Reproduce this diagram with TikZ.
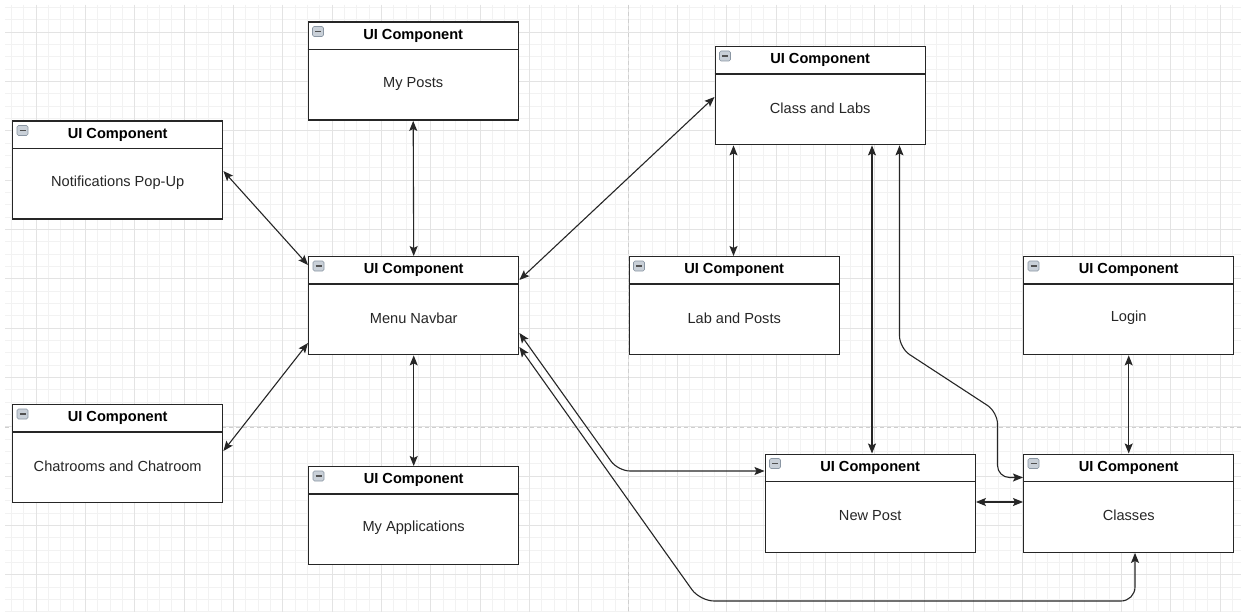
\documentclass[tikz,border=0pt]{standalone}
\usepackage{fontspec}
\setmainfont{Liberation Sans}
\usetikzlibrary{arrows.meta,calc}
\definecolor{gridminor}{HTML}{F2F2F2}
\definecolor{gridmajor}{HTML}{E3E3E3}
\definecolor{pageline}{HTML}{CFCFCF}
\definecolor{edge}{HTML}{262626}
\definecolor{iconfill}{HTML}{C9D0D8}
\definecolor{iconline}{HTML}{8A96A3}
\tikzset{
  uibox/.style={draw=edge, line width=1.4pt, fill=white, anchor=north west,
    minimum width=210pt, minimum height=98pt, inner sep=0pt},
  uititle/.style={font=\fontsize{14.6pt}{16pt}\selectfont\bfseries, text=black},
  uibody/.style={font=\fontsize{14.6pt}{16pt}\selectfont, text=black!85},
  conn/.style={draw=edge, line width=1.1pt, {Stealth[length=10pt,width=8pt,inset=2pt]}-{Stealth[length=10pt,width=8pt,inset=2pt]}},
  minusicon/.style={draw=iconline, fill=iconfill, rounded corners=1.5pt, line width=0.6pt},
}
% one UI component box: name, top-left x, top-left y, body text
% (y grows downwards, so positive offsets move down)
\newcommand{\uicomp}[4]{%
  \node[uibox] (#1) at (#2,#3) {};
  \draw[edge, line width=1.4pt] ($(#1.north west)+(0,28)$) -- ($(#1.north east)+(0,28)$);
  \node[uititle] (#1-title) at ($(#1.north)+(0,14)$) {UI Component};
  \node[uibody] (#1-body) at ($(#1.north)+(0,62)$) {#4};
  \draw[minusicon] ($(#1.north west)+(5,5)$) rectangle ($(#1.north west)+(16,15)$);
  \draw[edge!80, line width=1.2pt] ($(#1.north west)+(7.5,10)$) -- ($(#1.north west)+(13.5,10)$);
}
\begin{document}
\begin{tikzpicture}[x=1pt,y=-1pt]
\useasboundingbox (0,0) rectangle (1241,612);
\fill[white] (0,0) rectangle (1241,612);
% background grid
\begin{scope}
  \clip (5,5) rectangle (1241,612);
  \foreach \i in {-3,...,97} {
    \draw[gridminor, line width=0.8pt] ({36+12.333*\i},5) -- ({36+12.333*\i},612);
  }
  \foreach \i in {-3,...,50} {
    \draw[gridminor, line width=0.8pt] (5,{32+12.333*\i}) -- (1241,{32+12.333*\i});
  }
  \foreach \i in {0,...,24} {
    \draw[gridmajor, line width=0.9pt] ({36+49.333*\i},5) -- ({36+49.333*\i},612);
  }
  \foreach \i in {0,...,12} {
    \draw[gridmajor, line width=0.9pt] (5,{32+49.333*\i}) -- (1241,{32+49.333*\i});
  }
  \draw[pageline, line width=1pt, dash pattern=on 4pt off 3pt] (628,5) -- (628,612);
  \draw[pageline, line width=1pt, dash pattern=on 4pt off 3pt] (5,427.5) -- (1241,427.5);
\end{scope}

% components
\uicomp{posts}{307.5}{21.5}{My Posts}
\uicomp{notif}{12}{120.5}{Notifications Pop-Up}
\uicomp{nav}{308}{256}{Menu Navbar}
\uicomp{chat}{12}{404}{Chatrooms and Chatroom}
\uicomp{apps}{308}{466}{My Applications}
\uicomp{classlabs}{714.5}{46}{Class and Labs}
\uicomp{labposts}{628.5}{256}{Lab and Posts}
\uicomp{login}{1023}{256}{Login}
\uicomp{newpost}{764.5}{453.5}{New Post}
\uicomp{classes}{1023}{453.5}{Classes}

% connectors
\draw[conn] (posts.south) -- (nav.north);
\draw[conn] ($(notif.north east)+(0,50.5)$) -- ($(nav.north west)+(0,9)$);
\draw[conn] ($(chat.north east)+(0,47)$) -- ($(nav.north west)+(0,87)$);
\draw[conn] (nav.south) -- (apps.north);
\draw[conn] ($(nav.north east)+(0,24)$) -- ($(classlabs.north west)+(0,51)$);
\draw[conn] ($(classlabs.south west)+(19,0)$) -- ($(labposts.north west)+(105,0)$);
\draw[conn] ($(classlabs.south west)+(157.5,0)$) -- ($(newpost.north west)+(107.5,0)$);
\draw[conn, rounded corners=12pt] ($(classlabs.south west)+(185,0)$) -- (899.5,348) -- (997.5,412) -- (997.5,477.5) -- ($(classes.north west)+(0,24)$);
\draw[conn] (login.south) -- (classes.north);
\draw[conn] ($(newpost.north east)+(0,48.5)$) -- ($(classes.north west)+(0,48.5)$);
\draw[conn, rounded corners=12pt] ($(nav.north east)+(0,77)$) -- (618,471) -- ($(newpost.north west)+(0,17.5)$);
\draw[conn, rounded corners=14pt] ($(nav.north east)+(0,91)$) -- (700,601) -- (1135,601) -- ($(classes.south west)+(112,0)$);
\end{tikzpicture}
\end{document}
